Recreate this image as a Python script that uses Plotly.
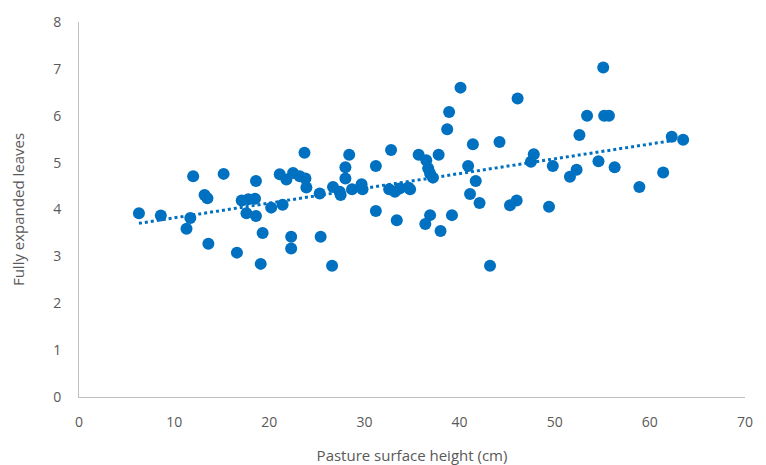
import numpy as np
import plotly.graph_objects as go

# Pasture surface height (cm)
height_cm = [6.3, 8.6, 11.3, 11.7, 12.0, 13.2, 13.5, 13.6, 15.2, 16.6, 17.1, 17.6, 17.8, 18.5, 18.6, 18.6,
             19.1, 19.3, 20.2, 21.1, 21.4, 21.8, 22.3, 22.3, 22.5, 23.2, 23.7, 23.8, 23.9, 25.3, 25.4,
             26.6, 26.7, 27.4, 27.5, 28.0, 28.0, 28.4, 28.7, 29.7, 29.8, 31.2, 31.2, 32.6, 32.8, 33.2,
             33.4, 33.7, 34.6, 34.8, 35.7, 36.4, 36.5, 36.7, 36.9, 36.9, 37.2, 37.8, 38.0, 38.7, 38.9,
             39.2, 40.1, 40.9, 41.1, 41.4, 41.7, 42.1, 43.2, 44.2, 45.3, 46.0, 46.1, 47.5, 47.8, 49.4,
             49.8, 51.6, 52.3, 52.6, 53.4, 54.6, 55.1, 55.2, 55.7, 56.3, 58.9, 61.4, 62.3, 63.5]
# Fully expanded leaves
leaves = [3.92, 3.87, 3.59, 3.82, 4.71, 4.31, 4.24, 3.27, 4.76, 3.08, 4.19, 3.92, 4.22, 4.23, 4.61, 3.86,
          2.84, 3.50, 4.04, 4.75, 4.10, 4.64, 3.42, 3.17, 4.78, 4.71, 5.21, 4.66, 4.47, 4.34, 3.42,
          2.80, 4.48, 4.38, 4.31, 4.90, 4.66, 5.17, 4.43, 4.54, 4.43, 4.93, 3.97, 4.43, 5.27, 4.38,
          3.77, 4.45, 4.47, 4.43, 5.17, 3.69, 5.05, 4.88, 4.77, 3.88, 4.68, 5.17, 3.54, 5.71, 6.08,
          3.88, 6.60, 4.93, 4.33, 5.39, 4.61, 4.14, 2.80, 5.44, 4.09, 4.19, 6.37, 5.02, 5.18, 4.06,
          4.93, 4.70, 4.85, 5.59, 6.00, 5.03, 7.03, 6.00, 6.00, 4.90, 4.48, 4.79, 5.55, 5.49]

x_ticks = [0, 10, 20, 30, 40, 50, 60, 70]
y_ticks = [0, 1, 2, 3, 4, 5, 6, 7, 8]

blue = "#0070C0"
grey_text = "#595959"

x = np.array(height_cm)
y = np.array(leaves)
slope, intercept = np.polyfit(x, y, 1)
trend_x = np.array([x.min(), x.max()])
trend_y = slope * trend_x + intercept

fig = go.Figure()
fig.add_trace(go.Scatter(x=height_cm, y=leaves, mode="markers",
                         marker=dict(color=blue, size=12, line=dict(width=0)),
                         showlegend=False, hoverinfo="x+y"))
fig.add_trace(go.Scatter(x=trend_x, y=trend_y, mode="lines",
                         line=dict(color=blue, width=3, dash="dot"),
                         showlegend=False, hoverinfo="skip"))

font = dict(family="Open Sans, Liberation Sans, sans-serif", size=14, color=grey_text)

fig.update_layout(
    width=766, height=465,
    margin=dict(l=71, r=29, t=14, b=76),
    plot_bgcolor="white", paper_bgcolor="white",
    font=font,
    xaxis=dict(range=[0, 70], tickvals=x_ticks, showgrid=False, zeroline=False,
               showline=True, linecolor="#BFBFBF", linewidth=1, automargin=False,
               ticks="outside", ticklen=12, tickcolor="rgba(0,0,0,0)",
               title=dict(text="Pasture surface height (cm)", standoff=20,
                          font=dict(size=15, color=grey_text))),
    yaxis=dict(range=[0, 8], tickvals=y_ticks, showgrid=False, zeroline=False,
               showline=True, linecolor="#BFBFBF", linewidth=1, automargin=False,
               ticks="outside", ticklen=14, tickcolor="rgba(0,0,0,0)",
               title=dict(text="Fully expanded leaves", standoff=26,
                          font=dict(size=15, color=grey_text))),
)

fig.write_html("out.html")
